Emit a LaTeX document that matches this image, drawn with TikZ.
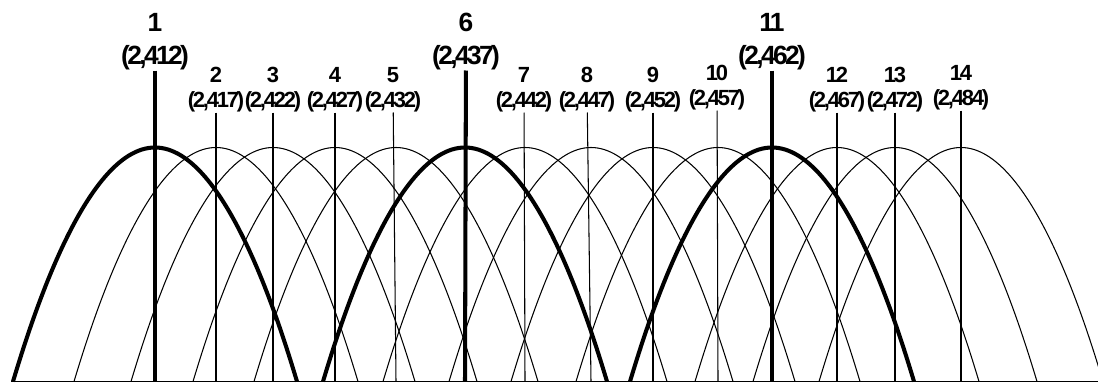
\documentclass[tikz,border=0pt]{standalone}
\usepackage{fontspec}
\setmainfont{Liberation Sans}[LetterSpace=-10]

\begin{document}
\begin{tikzpicture}[x=0.02cm, y=0.02cm,
		bigch/.style={font=\fontsize{15}{18.7}\selectfont\bfseries, align=center, inner sep=0pt, anchor=south},
		smallch/.style={font=\fontsize{12.5}{14.2}\selectfont\bfseries, align=center, inner sep=0pt, anchor=south},
		thickline/.style={line width=2.3pt},
		thinline/.style={line width=0.6pt},
		axis/.style={line width=1.1pt}
		]
		\useasboundingbox (0,-1.5) rectangle (1098,381.5);
		\clip (0,-1.5) rectangle (1098,381.5);
		
		% Channel centres on the axis
		\coordinate (b1) at (155,0);
		\coordinate (b2) at (216,0);
		\coordinate (b3) at (273,0);
		\coordinate (b4) at (335,0);
		\coordinate (b5) at (396,0);
		\coordinate (b6) at (465,0);
		\coordinate (b7) at (525,0);
		\coordinate (b8) at (591,0);
		\coordinate (b9) at (653,0);
		\coordinate (b10) at (718,0);
		\coordinate (b11) at (772,0);
		\coordinate (b12) at (837,0);
		\coordinate (b13) at (895,0);
		\coordinate (b14) at (961,0);
		\coordinate (axisL) at (11,0);
		\coordinate (axisR) at (1098,0);
		
		% Channel labels
		\node[bigch] (c1) at (155,311) {1\\(2,412)};
		\node[smallch] (c2) at (216,269) {2\\(2,417)};
		\node[smallch] (c3) at (273,269) {3\\(2,422)};
		\node[smallch] (c4) at (335,269) {4\\(2,427)};
		\node[smallch] (c5) at (393,269) {5\\(2,432)};
		\node[bigch] (c6) at (466,311) {6\\(2,437)};
		\node[smallch] (c7) at (524,269) {7\\(2,442)};
		\node[smallch] (c8) at (587,269) {8\\(2,447)};
		\node[smallch] (c9) at (653,269) {9\\(2,452)};
		\node[smallch] (c10) at (717,271) {10\\(2,457)};
		\node[bigch] (c11) at (772,311) {11\\(2,462)};
		\node[smallch] (c12) at (837,269) {12\\(2,467)};
		\node[smallch] (c13) at (895,269) {13\\(2,472)};
		\node[smallch] (c14) at (961,271) {14\\(2,484)};
		
		% Thin channel curves
		\draw[thinline] (74,0) parabola bend (216,234) (358,0);
		\draw[thinline] (131,0) parabola bend (273,234) (415,0);
		\draw[thinline] (193,0) parabola bend (335,234) (477,0);
		\draw[thinline] (254,0) parabola bend (396,234) (538,0);
		\draw[thinline] (383,0) parabola bend (525,234) (667,0);
		\draw[thinline] (449,0) parabola bend (591,234) (733,0);
		\draw[thinline] (511,0) parabola bend (653,234) (795,0);
		\draw[thinline] (576,0) parabola bend (718,234) (860,0);
		\draw[thinline] (695,0) parabola bend (837,234) (979,0);
		\draw[thinline] (753,0) parabola bend (895,234) (1037,0);
		\draw[thinline] (819,0) parabola bend (961,234) (1103,0);
		
		% Non-overlapping channels
		\draw[thickline] (13,0) parabola bend (155,234) (297,0);
		\draw[thickline] (323,0) parabola bend (465,234) (607,0);
		\draw[thickline] (630,0) parabola bend (772,234) (914,0);
		
		% Centre lines
		\draw[thickline] (c1) -- (b1);
		\draw[thinline] (c2) -- (b2);
		\draw[thinline] (c3) -- (b3);
		\draw[thinline] (c4) -- (b4);
		\draw[thinline] (c5) -- (b5);
		\draw[thickline] (c6) -- (b6);
		\draw[thinline] (c7) -- (b7);
		\draw[thinline] (c8) -- (b8);
		\draw[thinline] (c9) -- (b9);
		\draw[thinline] (c10) -- (b10);
		\draw[thickline] (c11) -- (b11);
		\draw[thinline] (c12) -- (b12);
		\draw[thinline] (c13) -- (b13);
		\draw[thinline] (c14) -- (b14);
		
		\draw[axis] (axisL) -- (axisR);
	\end{tikzpicture}
\end{document}
